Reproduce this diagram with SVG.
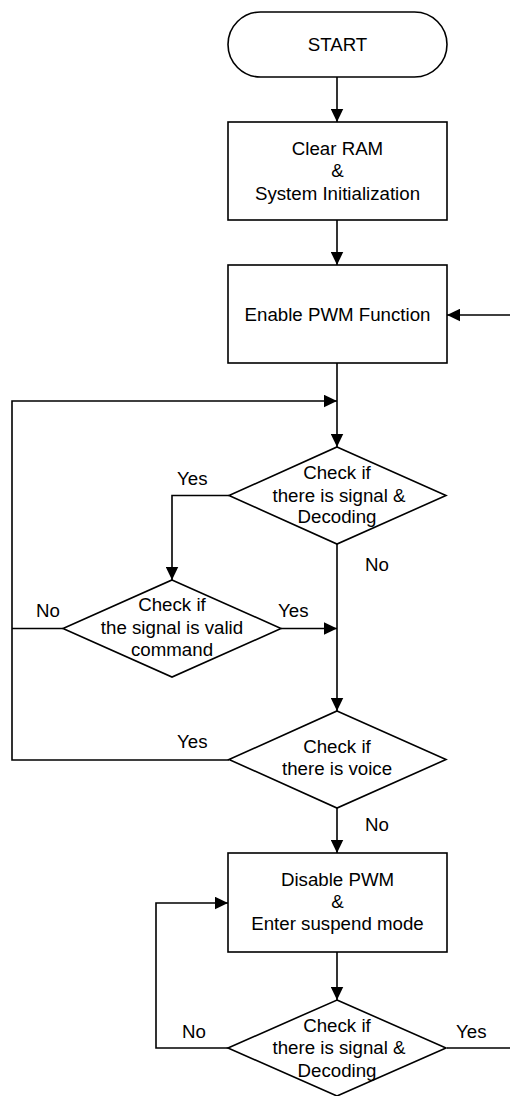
<svg xmlns="http://www.w3.org/2000/svg" width="510" height="1096" viewBox="0 0 510 1096">
  <defs>
    <marker id="arrow" markerUnits="userSpaceOnUse" markerWidth="13" markerHeight="13" viewBox="0 0 12.5 12" refX="12.5" refY="6" orient="auto">
      <path d="M0,0 L12.5,6 L0,12 z" fill="#000"/>
    </marker>
  </defs>
  <style>
    .shape { fill: #fff; stroke: #000; stroke-width: 1.6; }
    .wire { fill: none; stroke: #000; stroke-width: 1.6; }
    text { font-family: "Liberation Sans", Arial, sans-serif; font-size: 18.7px; fill: #000; }
    .c { text-anchor: middle; }
  </style>
  <rect width="510" height="1096" fill="#fff"/>

  <!-- connectors -->
  <g id="connectors">
    <path class="wire" d="M337,77 V122" marker-end="url(#arrow)"/>
    <path class="wire" d="M337,220 V265" marker-end="url(#arrow)"/>
    <path class="wire" d="M337,363 V447" marker-end="url(#arrow)"/>
    <path class="wire" d="M229,495.5 H172 V580" marker-end="url(#arrow)"/>
    <path class="wire" d="M281,628.5 H337" marker-end="url(#arrow)"/>
    <path class="wire" d="M63,628.5 H12"/>
    <path class="wire" d="M337,544 V711" marker-end="url(#arrow)"/>
    <path class="wire" d="M229,760 H12 V401 H337" marker-end="url(#arrow)"/>
    <path class="wire" d="M337,808 V853" marker-end="url(#arrow)"/>
    <path class="wire" d="M337,952 V1000" marker-end="url(#arrow)"/>
    <path class="wire" d="M228,1048 H156 V903 H228" marker-end="url(#arrow)"/>
    <path class="wire" d="M447,1048 H513 V315 H447" marker-end="url(#arrow)"/>
  </g>

  <!-- branch labels -->
  <g id="labels">
    <text x="177" y="485">Yes</text>
    <text x="365" y="571">No</text>
    <text x="36" y="617">No</text>
    <text x="278" y="617">Yes</text>
    <text x="177" y="748">Yes</text>
    <text x="365" y="831">No</text>
    <text x="182" y="1038">No</text>
    <text x="456" y="1038">Yes</text>
  </g>

  <g id="start">
    <rect class="shape" x="228" y="12" width="219" height="65" rx="32.5"/>
    <text class="c" x="337.5" y="51">START</text>
  </g>

  <g id="init">
    <rect class="shape" x="228" y="122" width="219" height="98"/>
    <text class="c" x="337.5" y="155">Clear RAM</text>
    <text class="c" x="337.5" y="177">&amp;</text>
    <text class="c" x="337.5" y="199.5">System Initialization</text>
  </g>

  <g id="enable-pwm">
    <rect class="shape" x="228" y="265" width="219" height="98"/>
    <text class="c" x="337.5" y="320.5">Enable PWM Function</text>
  </g>

  <g id="check-signal">
    <polygon class="shape" points="337,447 446,495.5 337,544 229,495.5"/>
    <text class="c" x="337" y="479">Check if</text>
    <text class="c" x="339" y="501.5">there is signal &amp;</text>
    <text class="c" x="337" y="523">Decoding</text>
  </g>

  <g id="check-valid">
    <polygon class="shape" points="172,580 281,628.5 172,677 63,628.5"/>
    <text class="c" x="172" y="611">Check if</text>
    <text class="c" x="172" y="633.5">the signal is valid</text>
    <text class="c" x="172" y="656">command</text>
  </g>

  <g id="check-voice">
    <polygon class="shape" points="337,711 446,759.5 337,808 229,759.5"/>
    <text class="c" x="337" y="753">Check if</text>
    <text class="c" x="337" y="775">there is voice</text>
  </g>

  <g id="suspend">
    <rect class="shape" x="228" y="853" width="219" height="99"/>
    <text class="c" x="337.5" y="885.5">Disable PWM</text>
    <text class="c" x="337.5" y="907.5">&amp;</text>
    <text class="c" x="337.5" y="930">Enter suspend mode</text>
  </g>

  <g id="check-wake">
    <polygon class="shape" points="337,1000 446,1048 337,1096 228,1048"/>
    <text class="c" x="337" y="1031.5">Check if</text>
    <text class="c" x="339" y="1054">there is signal &amp;</text>
    <text class="c" x="337" y="1076.5">Decoding</text>
  </g>
</svg>
